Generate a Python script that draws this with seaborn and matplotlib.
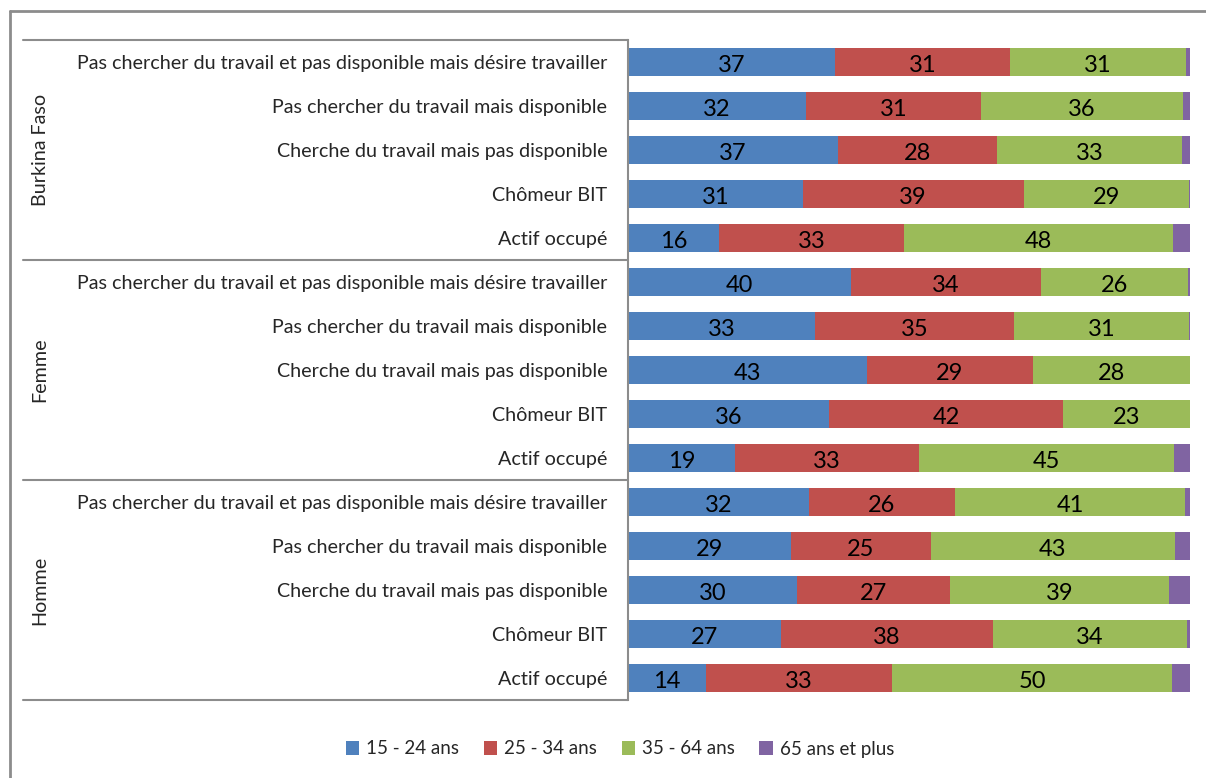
import matplotlib
matplotlib.use("Agg")
import matplotlib.pyplot as plt
from matplotlib.lines import Line2D
from matplotlib.patches import Patch
import numpy as np
import pandas as pd
import seaborn as sns

# Groups and employment status (rows are drawn top to bottom)
groups = ["Burkina Faso", "Femme", "Homme"]
statuts = [
    "Pas chercher du travail et pas disponible mais désire travailler",
    "Pas chercher du travail mais disponible",
    "Cherche du travail mais pas disponible",
    "Chômeur BIT",
    "Actif occupé",
]
age_classes = ["15 - 24 ans", "25 - 34 ans", "35 - 64 ans", "65 ans et plus"]

# Share (%) of each age class, one value per row (Burkina Faso, Femme, Homme)
age_15_24 = [36.8, 31.7, 37.4, 31.1, 16.2, 39.6, 33.3, 42.6, 35.8, 19.0, 32.2, 29.0, 30.1, 27.2, 13.9]
age_25_34 = [31.2, 31.1, 28.3, 39.3, 32.9, 33.8, 35.4, 29.4, 41.6, 32.7, 26.0, 24.9, 27.2, 37.8, 33.1]
age_35_64 = [31.3, 35.9, 32.9, 29.4, 47.9, 26.2, 31.1, 28.0, 22.6, 45.4, 40.9, 43.4, 39.0, 34.4, 49.8]
age_65_plus = [0.7, 1.3, 1.4, 0.2, 3.0, 0.4, 0.2, 0.0, 0.0, 2.9, 0.9, 2.7, 3.7, 0.6, 3.2]

colors = ["#4F81BD", "#C0504D", "#9BBB59", "#8064A2"]
FONT = "Lato"

sns.set_theme(style="white")
plt.rcParams["font.family"] = [FONT, "DejaVu Sans"]

series = [age_15_24, age_25_34, age_35_64, age_65_plus]
row_keys = [f"{g} | {s}" for g in groups for s in statuts]
df = pd.DataFrame({"row": row_keys})
cum = np.cumsum(np.array(series), axis=0)
for i, name in enumerate(age_classes):
    df[name] = series[i]
    df[name + " cum"] = cum[i]

W, H = 1206, 778
fig = plt.figure(figsize=(W / 100, H / 100), dpi=100)
x0, x1, ytop, ybot = 628, 1190, 40, 700
ax = fig.add_axes([x0 / W, 1 - ybot / H, (x1 - x0) / W, (ybot - ytop) / H])

# Stacked bars: draw cumulative totals from the widest to the narrowest
for i in reversed(range(len(age_classes))):
    sns.barplot(data=df, x=age_classes[i] + " cum", y="row", order=row_keys,
                color=colors[i], saturation=1, width=0.62, linewidth=0,
                orient="h", ax=ax)

# Value labels centred in the first three segments
for i in range(3):
    for r, (v, c) in enumerate(zip(series[i], cum[i])):
        ax.text(c - v / 2, r + 0.07, f"{round(v):d}", ha="center", va="center",
                fontsize=17, color="black")

ax.set_xlim(0, 100)
ax.set_ylim(len(row_keys) - 0.5, -0.5)
ax.set_xlabel("")
ax.set_ylabel("")
ax.set_xticks([])
ax.set_yticks(range(len(row_keys)))
ax.set_yticklabels(statuts * len(groups), fontsize=14.2)
ax.tick_params(axis="y", length=0, pad=15)
for side in ["top", "right", "bottom"]:
    ax.spines[side].set_visible(False)
ax.spines["left"].set_color("#8C8C8C")
ax.spines["left"].set_linewidth(1.5)

# Group separators and group names on the left
line_col = "#8C8C8C"
for k in range(len(groups) + 1):
    y = ytop + k * (ybot - ytop) / len(groups)
    fig.add_artist(Line2D([23 / W, x0 / W], [1 - y / H, 1 - y / H],
                          color=line_col, lw=1.5))
for k, g in enumerate(groups):
    yc = ytop + (k + 0.5) * (ybot - ytop) / len(groups)
    fig.text(40 / W, 1 - yc / H, g, rotation=90, ha="center", va="center",
             fontsize=14.2)

# Outer chart frame (left and top edges)
fig.add_artist(Line2D([9.5 / W, 9.5 / W], [0, 1 - 11 / H], color="#8C8C8C", lw=2))
fig.add_artist(Line2D([9.5 / W, 1], [1 - 11 / H, 1 - 11 / H], color="#8C8C8C", lw=2))

handles = [Patch(facecolor=c, edgecolor="none", label=l) for c, l in zip(colors, age_classes)]
fig.legend(handles=handles, loc="center", bbox_to_anchor=(620 / W, 1 - 749 / H),
           ncol=4, frameon=False, fontsize=13.5, handlelength=0.7,
           handleheight=0.7, handletextpad=0.4, columnspacing=1.3)

fig.savefig("out.png", dpi=100)
